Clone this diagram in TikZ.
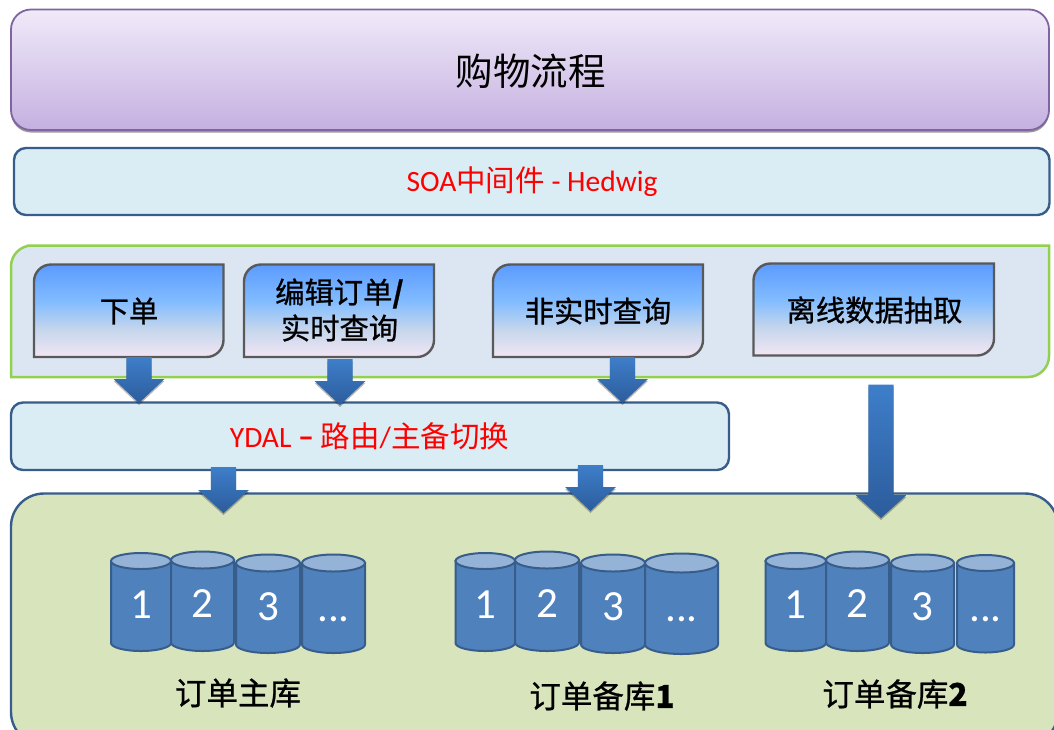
\documentclass[tikz,border=0pt]{standalone}
\usepackage{fontspec}
\setmainfont{Carlito}
\newfontfamily\cjk{Noto Sans CJK SC}
\newfontfamily\cjkb[FakeBold=0.8]{Noto Sans CJK SC}
\usetikzlibrary{calc,shadows}
\definecolor{purpletop}{HTML}{F0EAF9}
\definecolor{purplebot}{HTML}{C5B0E0}
\definecolor{purpleline}{HTML}{8064A2}
\definecolor{paleblue}{HTML}{DBEDF4}
\definecolor{steelline}{HTML}{385D8A}
\definecolor{greenline}{HTML}{92D050}
\definecolor{panelblue}{HTML}{DCE6F2}
\definecolor{panelgreen}{HTML}{D7E4BC}
\definecolor{boxline}{HTML}{595959}
\definecolor{dbbody}{HTML}{4F81BD}
\definecolor{dbtop}{HTML}{95B3D7}
\definecolor{arrowtop}{HTML}{3E7EC9}
\definecolor{arrowbot}{HTML}{2C5C9C}
\definecolor{redtext}{HTML}{FF0000}
\definecolor{shadepink}{HTML}{F2E6F4}
\definecolor{shadegrey}{HTML}{C5D6EC}
\definecolor{shadesky}{HTML}{82BCFF}
\definecolor{shadeblue}{HTML}{5B9BFF}
\pgfdeclareverticalshading{blueboxshade}{100bp}{
  color(0bp)=(shadepink); color(25bp)=(shadepink); color(40bp)=(shadegrey);
  color(55bp)=(shadesky); color(75bp)=(shadeblue); color(100bp)=(shadeblue)}
\tikzset{
  x=1pt,y=1pt,
  flowbar/.style={draw=purpleline,line width=1.8pt,rounded corners=20pt,top color=purpletop,bottom color=purplebot,
    drop shadow={shadow xshift=0pt,shadow yshift=-2.5pt,opacity=.4,fill=black}},
  midbar/.style={draw=steelline,line width=2.4pt,rounded corners=12pt,fill=paleblue},
  apppanel/.style={draw=greenline,line width=2.5pt,fill=panelblue},
  dbpanel/.style={draw=steelline,line width=2.4pt,fill=panelgreen,rounded corners=33pt},
  appbox/.style={draw=boxline,line width=2.4pt,shading=blueboxshade},
  blockarrow/.style={top color=arrowtop,bottom color=arrowbot,draw=none,
    drop shadow={shadow xshift=0pt,shadow yshift=-2pt,opacity=.28,fill=black}},
  dbshape/.style={draw=steelline,line width=2pt},
  dblabel/.style={text=white,inner sep=0pt,font=\fontsize{43}{46}\selectfont},
  boxlabel/.style={inner sep=0pt,align=center,font=\cjkb\fontsize{29.3}{36}\selectfont},
  storelabel/.style={inner sep=0pt,font=\cjkb\fontsize{31.5}{36}\selectfont},
  redlabel/.style={inner sep=0pt,text=redtext,font=\fontsize{29.5}{34}\selectfont},
}
% #1 from coord, #2 tip coord, #3 head depth
\newcommand{\blockarrow}[3]{%
  \path[blockarrow] ($(#1)+(-12.7,0)$) -- ($(#1)+(12.7,0)$) -- ($(#2)+(12.7,#3)$) -- ($(#2)+(25.5,#3)$) -- (#2)
    -- ($(#2)+(-25.5,#3)$) -- ($(#2)+(-12.7,#3)$) -- cycle;}
% #1 name, #2 x0, #3 x1, #4 top cy, #5 height, #6 ry, #7 label, #8 label y
\newcommand{\dbcyl}[8]{%
  \pgfmathsetmacro{\rxv}{(#3-#2)/2}
  \pgfmathsetmacro{\cxv}{(#3+#2)/2}
  \draw[dbshape,fill=dbbody] (#2,-#4) -- (#2,-#4-#5) arc[start angle=180,end angle=360,x radius=\rxv,y radius=#6] -- (#3,-#4) -- cycle;
  \draw[dbshape,fill=dbtop] (\cxv,-#4) ellipse[x radius=\rxv,y radius=#6];
  \node[dblabel] (#1) at (\cxv,-#8) {#7};}
\newcommand{\dbgroup}[9]{%
  \dbcyl{#1a}{#2}{#3}{561}{82}{8}{1}{605}
  \dbcyl{#1b}{#3}{#4}{560}{82.5}{8.5}{2}{604}
  \dbcyl{#1c}{#5}{#6}{563}{81.5}{8.5}{3}{607}
  \dbcyl{#1d}{#7}{#8}{563}{81.5}{#9}{...}{619}}
\begin{document}
\begin{tikzpicture}
\useasboundingbox (0,0) rectangle (1054,-729);
\clip (0,0) rectangle (1054,-729);

% top bars
\path[flowbar] (11,-9.5) rectangle (1049,-130);
\node[inner sep=0pt,font=\cjk\fontsize{37.5}{42}\selectfont] (flow) at (530.5,-71) {购物流程};
\path[midbar] (14,-148) rectangle (1049.5,-215);
\node[redlabel] (soa) at (532,-182) {SOA{\cjk\fontsize{29.5}{34}\selectfont 中间件} - Hedwig};

% application panel
\draw[apppanel] (11,-377) -- (11,-266) [rounded corners=21pt] -- (11,-245.5) -- (48,-245.5) [sharp corners] -- (1049,-245.5) [rounded corners=21pt] -- (1049,-377) [sharp corners] -- cycle;

\draw[appbox] (34,-357) [rounded corners=17pt] -- (34,-264.5) [sharp corners] -- (223.5,-264.5) [rounded corners=17pt] -- (223.5,-357) [sharp corners] -- cycle;
\node[boxlabel] (order) at (129,-311) {下单};
\draw[appbox] (244,-357) [rounded corners=17pt] -- (244,-264.5) [sharp corners] -- (434,-264.5) [rounded corners=17pt] -- (434,-357) [sharp corners] -- cycle;
\node[boxlabel] (edit) at (339.5,-310) {编辑订单{\bfseries /}\\实时查询};
\draw[appbox] (493,-357) [rounded corners=17pt] -- (493,-264.5) [sharp corners] -- (703,-264.5) [rounded corners=17pt] -- (703,-357) [sharp corners] -- cycle;
\node[boxlabel] (query) at (598,-311) {非实时查询};
\draw[appbox] (753.5,-355.5) [rounded corners=17pt] -- (753.5,-263.5) [sharp corners] -- (994,-263.5) [rounded corners=17pt] -- (994,-355.5) [sharp corners] -- cycle;
\node[boxlabel] (extract) at (874.5,-310) {离线数据抽取};

% routing bar
\path[midbar] (11,-402.5) rectangle (729,-470);
\node[redlabel] (ydal) at (369.5,-436.5) {YDAL {\bfseries\fontsize{32}{34}\selectfont –} {\cjk 路由}/{\cjk 主备切换}};

% database panel
\path[dbpanel] (11,-493.5) rectangle (1058,-745);

\dbgroup{m}{111}{171}{234}{236}{300}{302}{365}{8.5}
\dbgroup{s}{455.5}{515}{579}{581}{645}{645}{718}{9.5}
\dbgroup{t}{765.5}{826}{889}{891}{954}{957}{1014}{8}

\node[storelabel] (mainstore) at (238,-693) {订单主库};
\node[storelabel] (backup1) at (602,-696) {订单备库{\bfseries 1}};
\node[storelabel] (backup2) at (895,-694) {订单备库{\bfseries 2}};

% block arrows
\coordinate (a1s) at (139,-357);   \coordinate (a1e) at (139,-403);
\coordinate (a2s) at (340,-359);   \coordinate (a2e) at (340,-405);
\coordinate (a3s) at (622.5,-357); \coordinate (a3e) at (622.5,-403);
\coordinate (a4s) at (223.5,-467); \coordinate (a4e) at (223.5,-513);
\coordinate (a5s) at (590.5,-465); \coordinate (a5e) at (590.5,-511);
\coordinate (a6s) at (881,-384.5); \coordinate (a6e) at (881,-518);
\blockarrow{a1s}{a1e}{24}
\blockarrow{a2s}{a2e}{24}
\blockarrow{a3s}{a3e}{24}
\blockarrow{a4s}{a4e}{23}
\blockarrow{a5s}{a5e}{24}
\blockarrow{a6s}{a6e}{23}
\end{tikzpicture}
\end{document}
